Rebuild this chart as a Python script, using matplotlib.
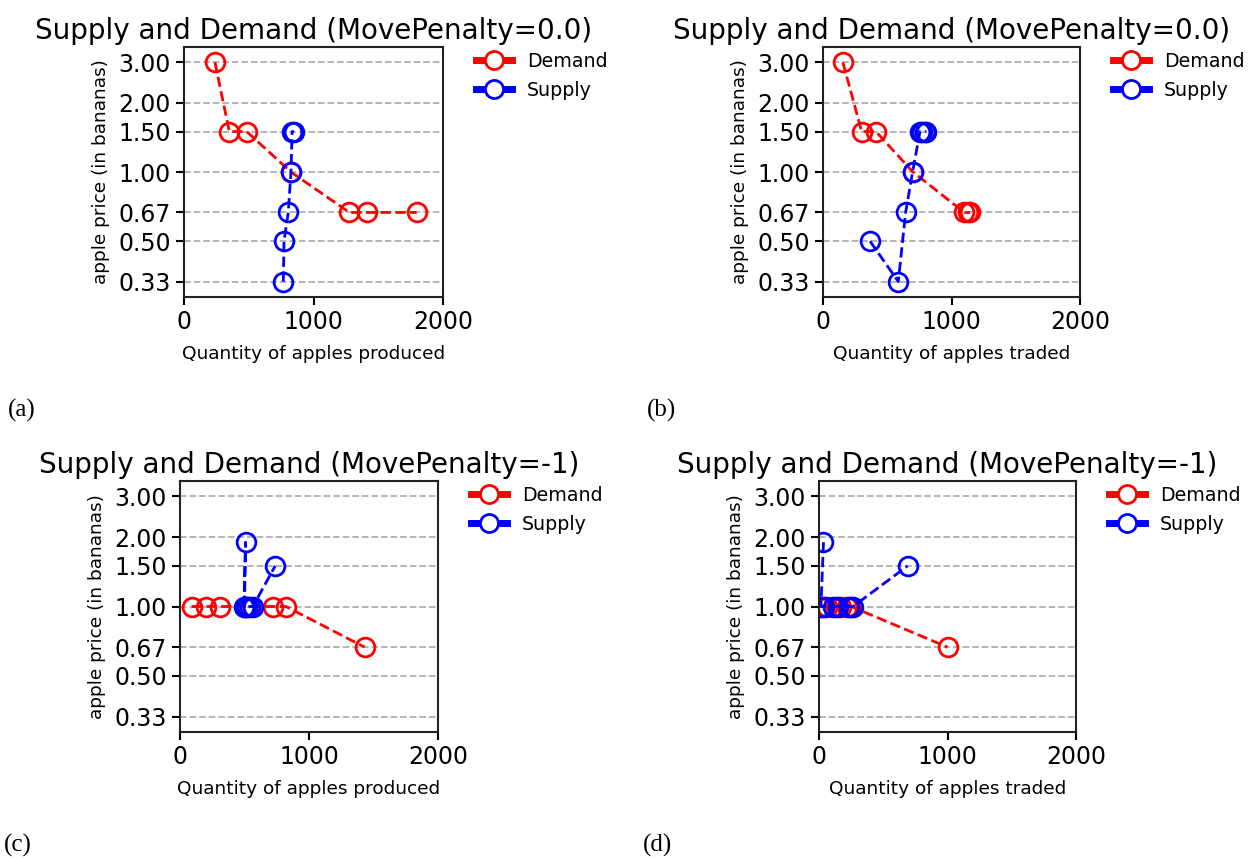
import matplotlib
matplotlib.use("Agg")
import matplotlib.pyplot as plt
from matplotlib.lines import Line2D
from matplotlib.ticker import FixedLocator, FixedFormatter, NullLocator

# price levels on the y axis (log scale)
price_ticks = [1/3, 1/2, 2/3, 1.0, 3/2, 2.0, 3.0]
price_labels = ["0.33", "0.50", "0.67", "1.00", "1.50", "2.00", "3.00"]

# (a) MovePenalty=0.0, produced
dem_a_q = [239, 350, 484, 826, 1277, 1416, 1797]
dem_a_p = [3.0, 1.5, 1.5, 1.0, 2/3, 2/3, 2/3]
sup_a_q = [767, 772, 805, 826, 835, 850]
sup_a_p = [1/3, 1/2, 2/3, 1.0, 1.5, 1.5]

# (b) MovePenalty=0.0, traded
dem_b_q = [155, 301, 412, 700, 1100, 1125, 1145]
dem_b_p = [3.0, 1.5, 1.5, 1.0, 2/3, 2/3, 2/3]
sup_b_q = [366, 586, 643, 697, 755, 772, 790, 805]
sup_b_p = [1/2, 1/3, 2/3, 1.0, 1.5, 1.5, 1.5, 1.5]

# (c) MovePenalty=-1, produced
dem_c_q = [90, 200, 313, 520, 718, 821, 1431]
dem_c_p = [1.0, 1.0, 1.0, 1.0, 1.0, 1.0, 2/3]
sup_c_q = [495, 508, 500, 520, 545, 565, 738]
sup_c_p = [1.0, 1.9, 1.0, 1.0, 1.0, 1.0, 1.5]

# (d) MovePenalty=-1, traded
dem_d_q = [10, 60, 130, 175, 215, 250, 1000]
dem_d_p = [1.0, 1.0, 1.0, 1.0, 1.0, 1.0, 2/3]
sup_d_q = [35, 15, 40, 110, 150, 230, 265, 690]
sup_d_p = [1.9, 1.0, 1.0, 1.0, 1.0, 1.0, 1.0, 1.5]

panels = [
    ("(a)", "Supply and Demand (MovePenalty=0.0)", "Quantity of apples produced",
     dem_a_q, dem_a_p, sup_a_q, sup_a_p, [184, 47, 443, 297]),
    ("(b)", "Supply and Demand (MovePenalty=0.0)", "Quantity of apples traded",
     dem_b_q, dem_b_p, sup_b_q, sup_b_p, [823, 47, 1080, 297]),
    ("(c)", "Supply and Demand (MovePenalty=-1)", "Quantity of apples produced",
     dem_c_q, dem_c_p, sup_c_q, sup_c_p, [180, 481, 438, 732]),
    ("(d)", "Supply and Demand (MovePenalty=-1)", "Quantity of apples traded",
     dem_d_q, dem_d_p, sup_d_q, sup_d_p, [819, 481, 1076, 732]),
]

W, H = 1249, 858
fig = plt.figure(figsize=(W / 100, H / 100), dpi=100)

for tag, title, xlabel, dq, dp, sq, sp, box in panels:
    x0, y0, x1, y1 = box
    ax = fig.add_axes([x0 / W, 1 - y1 / H, (x1 - x0) / W, (y1 - y0) / H])
    ax.plot(dq, dp, "--", color="red", lw=2, marker="o", ms=13.5,
            mfc="none", mew=2, label="Demand")
    ax.plot(sq, sp, "--", color="blue", lw=2, marker="o", ms=13.5,
            mfc="none", mew=2, label="Supply")
    ax.set_yscale("log")
    ax.set_ylim(1 / 3.5, 3.5)
    ax.set_xlim(0, 2000)
    ax.set_xticks([0, 1000, 2000])
    ax.yaxis.set_major_locator(FixedLocator(price_ticks))
    ax.yaxis.set_major_formatter(FixedFormatter(price_labels))
    ax.yaxis.set_minor_locator(NullLocator())
    ax.grid(axis="y", ls="--", color="#b0b0b0", lw=1.3)
    ax.set_axisbelow(True)
    ax.tick_params(labelsize=17, width=1.5, length=6)
    for s in ax.spines.values():
        s.set_linewidth(1.5)
        s.set_color("#222222")
    ax.set_title(title, fontsize=20)
    ax.set_xlabel(xlabel, fontsize=13.3, labelpad=8)
    ax.set_ylabel("apple price (in bananas)", fontsize=13.3, labelpad=6)
    handles = [
        Line2D([], [], color="red", lw=5, marker="o", ms=13, mfc="white", mew=2),
        Line2D([], [], color="blue", lw=5, marker="o", ms=13, mfc="white", mew=2),
    ]
    ax.legend(handles, ["Demand", "Supply"], loc="upper left",
              bbox_to_anchor=(1.06, 1.05), frameon=False, fontsize=13.7,
              handlelength=1.9, labelspacing=0.55)
    fig.text((x0 - 176) / W, 1 - (y1 + 113) / H, tag, fontsize=18,
             family="Liberation Serif", va="center")

fig.savefig("out.png", dpi=100)
